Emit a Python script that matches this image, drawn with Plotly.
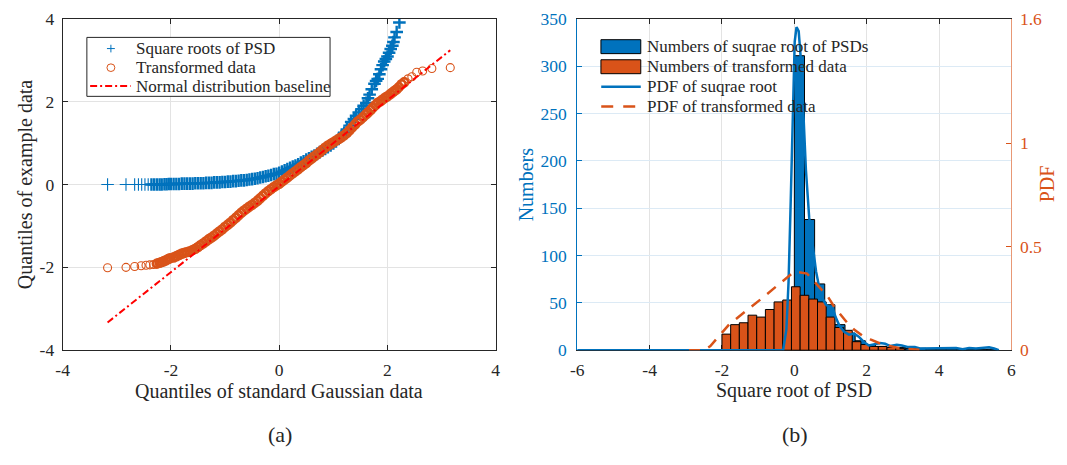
import plotly.graph_objects as go

# ------------------------------------------------------------------ data
# (a) QQ plot: square roots of PSD (blue "+")
sqrt_q_x = [-3.17, -2.83, -2.67, -2.60, -2.54, -2.48, -2.42, -2.36, -2.31, -2.26, -2.21, -2.17, -2.12, -2.08, -2.04,
            -2.00, -1.95, -1.90, -1.85, -1.80, -1.75, -1.70, -1.65, -1.60, -1.55, -1.50, -1.45, -1.40, -1.35, -1.30,
            -1.25, -1.20, -1.15, -1.10, -1.05, -1.00, -0.95, -0.90, -0.85, -0.80, -0.75, -0.70, -0.65, -0.60, -0.55,
            -0.50, -0.45, -0.40, -0.35, -0.30, -0.25, -0.20, -0.15, -0.10, -0.05, 0.00, 0.05, 0.10, 0.15, 0.20,
            0.25, 0.30, 0.35, 0.40, 0.45, 0.50, 0.55, 0.60, 0.65, 0.70, 0.75, 0.80, 0.85, 0.90, 0.95,
            1.00, 1.05, 1.10, 1.15, 1.20, 1.25, 1.30, 1.33, 1.38, 1.42, 1.47, 1.52, 1.56, 1.61, 1.64,
            1.67, 1.71, 1.76, 1.79, 1.82, 1.85, 1.88, 1.91, 1.94, 1.97, 2.00, 2.03, 2.06, 2.09, 2.11,
            2.13, 2.17, 2.22]
sqrt_q_y = [0.00, 0.00, 0.00, 0.00, 0.00, 0.00, 0.00, 0.00, 0.00, 0.00, 0.00, 0.00, 0.005, 0.005, 0.01,
            0.01, 0.01, 0.01, 0.01, 0.02, 0.02, 0.02, 0.02, 0.02, 0.03, 0.03, 0.03, 0.03, 0.04, 0.04,
            0.04, 0.05, 0.05, 0.05, 0.06, 0.06, 0.07, 0.07, 0.08, 0.08, 0.09, 0.10, 0.10, 0.11, 0.12,
            0.13, 0.14, 0.15, 0.17, 0.18, 0.20, 0.21, 0.23, 0.25, 0.26, 0.28, 0.31, 0.34, 0.37, 0.40,
            0.43, 0.46, 0.49, 0.53, 0.56, 0.60, 0.63, 0.67, 0.70, 0.74, 0.78, 0.82, 0.86, 0.90, 0.94,
            0.99, 1.04, 1.10, 1.17, 1.25, 1.33, 1.42, 1.51, 1.58, 1.66, 1.74, 1.82, 1.90, 1.97, 2.08,
            2.17, 2.30, 2.43, 2.50, 2.55, 2.66, 2.78, 2.88, 2.97, 3.03, 3.09, 3.18, 3.27, 3.35, 3.44,
            3.55, 3.68, 3.91]

# (a) QQ plot: transformed data (orange circles)
trans_q_x = [-3.17, -2.83, -2.67, -2.55, -2.46, -2.39, -2.32, -2.26, -2.21, -2.17, -2.13, -2.09, -2.05, -2.02,
             -1.95, -1.90, -1.85, -1.80, -1.75, -1.70, -1.65, -1.60, -1.55, -1.50, -1.45, -1.40, -1.35, -1.30,
             -1.25, -1.20, -1.15, -1.10, -1.05, -1.00, -0.95, -0.90, -0.85, -0.80, -0.75, -0.70, -0.65, -0.60,
             -0.55, -0.50, -0.45, -0.40, -0.35, -0.30, -0.25, -0.20, -0.15, -0.10, -0.05, 0.00, 0.05, 0.10,
             0.15, 0.20, 0.25, 0.30, 0.35, 0.40, 0.45, 0.50, 0.55, 0.60, 0.65, 0.70, 0.75, 0.80,
             0.85, 0.90, 0.95, 1.00, 1.05, 1.10, 1.15, 1.20, 1.25, 1.30, 1.35, 1.40, 1.45, 1.50,
             1.55, 1.60, 1.64, 1.69, 1.73, 1.78, 1.82, 1.87, 1.91, 1.96, 2.00, 2.05, 2.09, 2.13,
             2.17, 2.21, 2.26, 2.31, 2.38, 2.45, 2.54, 2.65, 2.82, 3.16]
trans_q_y = [-2.01, -2.00, -1.98, -1.96, -1.95, -1.94, -1.93, -1.91, -1.89, -1.87, -1.85, -1.83, -1.80, -1.78,
             -1.76, -1.73, -1.70, -1.67, -1.65, -1.63, -1.61, -1.58, -1.55, -1.51, -1.46, -1.42, -1.37, -1.32,
             -1.28, -1.23, -1.18, -1.13, -1.08, -1.02, -0.97, -0.92, -0.86, -0.80, -0.74, -0.68, -0.63, -0.58,
             -0.53, -0.49, -0.44, -0.39, -0.33, -0.27, -0.21, -0.16, -0.11, -0.06, -0.02, 0.02, 0.07, 0.12,
             0.17, 0.22, 0.27, 0.32, 0.37, 0.42, 0.47, 0.52, 0.58, 0.63, 0.68, 0.73, 0.78, 0.84,
             0.89, 0.94, 0.98, 1.02, 1.06, 1.10, 1.14, 1.19, 1.24, 1.31, 1.38, 1.45, 1.52, 1.57,
             1.63, 1.69, 1.74, 1.80, 1.86, 1.92, 1.97, 2.01, 2.05, 2.10, 2.13, 2.18, 2.22, 2.26,
             2.30, 2.35, 2.42, 2.47, 2.55, 2.60, 2.71, 2.74, 2.80, 2.82]

# (a) normal distribution baseline
baseline_x = [-3.17, 3.16]
baseline_y = [-3.33, 3.24]

# (b) histogram of square roots of PSD
sqrt_edges = [0.00, 0.28, 0.56, 0.84, 1.12, 1.40, 1.68, 1.96, 2.24, 2.52, 2.80,
              3.08, 3.36, 3.64, 3.92, 4.20, 4.48, 4.76, 5.04, 5.32, 5.60]
sqrt_counts = [311, 138, 70, 48, 27, 18, 10, 6, 4, 3, 3, 2, 2, 1, 1, 1, 1, 1, 1, 1]

# (b) histogram of transformed data
trans_edges = [-2.00, -1.76, -1.52, -1.28, -1.04, -0.80, -0.56, -0.32, -0.08, 0.16, 0.40,
               0.64, 0.88, 1.12, 1.36, 1.60, 1.84, 2.08, 2.32, 2.56, 2.80, 3.04]
trans_counts = [17, 27, 29, 37, 35, 43, 51, 53, 67, 58, 54, 51, 35, 24, 21, 9, 6, 4, 4, 3, 2]

# (b) PDF of square roots
sqrt_pdf_x = [-6.00, -0.31, -0.22, -0.16, -0.10, -0.04, 0.01, 0.06, 0.12, 0.19, 0.26, 0.32, 0.41, 0.51,
              0.60, 0.69, 0.78, 0.87, 0.96, 1.05, 1.14, 1.24, 1.37, 1.51, 1.65, 1.78, 1.92, 2.06,
              2.19, 2.37, 2.51, 2.65, 2.83, 2.97, 3.15, 3.33, 3.47, 3.65, 3.92, 4.20, 4.47, 4.65,
              4.83, 5.02, 5.20, 5.38, 5.52, 5.65]
sqrt_pdf_y = [0.00, 0.00, 0.10, 0.33, 0.72, 1.18, 1.49, 1.56, 1.54, 1.38, 1.10, 0.87, 0.64, 0.49,
              0.38, 0.30, 0.25, 0.22, 0.21, 0.21, 0.16, 0.12, 0.09, 0.075, 0.08, 0.065, 0.04, 0.023,
              0.028, 0.035, 0.031, 0.020, 0.026, 0.023, 0.015, 0.015, 0.008, 0.008, 0.008, 0.008, 0.011, 0.005,
              0.011, 0.008, 0.011, 0.014, 0.008, 0.00]

# (b) PDF of transformed data
trans_pdf_x = [-2.91, -2.50, -2.32, -1.80, -0.90, 0.00, 0.35, 0.73, 0.92, 1.10, 1.24, 1.45, 1.65,
               1.90, 2.10, 2.40, 2.90, 3.60]
trans_pdf_y = [0.00, 0.00, 0.02, 0.125, 0.25, 0.38, 0.37, 0.30, 0.26, 0.21, 0.18, 0.135, 0.10,
               0.068, 0.052, 0.03, 0.01, 0.00]

x_ticks_a = [-4, -2, 0, 2, 4]
x_ticks_b = [-6, -4, -2, 0, 2, 4, 6]
y_ticks_a = [-4, -2, 0, 2, 4]
y_ticks_num = [0, 50, 100, 150, 200, 250, 300, 350]
y_ticks_pdf = [0, 0.5, 1, 1.6]

# ------------------------------------------------------------------ style
FONT = "Liberation Serif"
AX = "#262626"
BLUE = "#0072BD"
ORANGE = "#D95319"
PAGE_W, PAGE_H = 1067, 465
OFF = 8                       # default body margin of the html page
W, H = PAGE_W - 2 * OFF, PAGE_H - 2 * OFF
TICK_SIZE = 17.5
TITLE_SIZE = 20
LEG_SIZE = 17


def px(x):
    """page pixel x -> paper fraction"""
    return (x - OFF) / W


def py(y):
    """page pixel y -> paper fraction"""
    return 1 - (y - OFF) / H


def lab(v):
    return "%g" % v  # ASCII hyphen-minus, as in the original


def density_widths(xs, thin, thick, gap=0.06):
    """Thicker marker strokes where points crowd together (the solid band of the QQ plot)."""
    out = []
    for i in range(len(xs)):
        d = min(abs(xs[i] - xs[j]) for j in (i - 1, i + 1) if 0 <= j < len(xs))
        out.append(thick if d < gap else thin)
    return out


L_X = [px(56.2), px(494.3)]
R_X = [px(576.7), px(1016.0)]
Y_DOM = [py(355.7), py(8.8)]

fig = go.Figure()

# ---- (a)
fig.add_trace(go.Scatter(x=sqrt_q_x, y=sqrt_q_y, mode="markers", xaxis="x", yaxis="y",
                         marker=dict(symbol="cross-thin-open", size=9, color=BLUE,
                                     line=dict(width=density_widths(sqrt_q_x, 1.1, 2.4), color=BLUE)),
                         showlegend=False))
fig.add_trace(go.Scatter(x=trans_q_x, y=trans_q_y, mode="markers", xaxis="x", yaxis="y",
                         marker=dict(symbol="circle-open", size=8, color=ORANGE,
                                     line=dict(width=density_widths(trans_q_x, 1.1, 2.6), color=ORANGE)),
                         showlegend=False))
fig.add_trace(go.Scatter(x=baseline_x, y=baseline_y, mode="lines", xaxis="x", yaxis="y",
                         line=dict(color="red", width=2, dash="7px,3px,2px,3px"), showlegend=False))

# ---- (b)
s_centers = [(a + b) / 2 for a, b in zip(sqrt_edges[:-1], sqrt_edges[1:])]
s_widths = [b - a for a, b in zip(sqrt_edges[:-1], sqrt_edges[1:])]
t_centers = [(a + b) / 2 for a, b in zip(trans_edges[:-1], trans_edges[1:])]
t_widths = [b - a for a, b in zip(trans_edges[:-1], trans_edges[1:])]

fig.add_trace(go.Bar(x=s_centers, y=sqrt_counts, width=s_widths, xaxis="x2", yaxis="y2",
                     marker=dict(color=BLUE, line=dict(color="black", width=1)), showlegend=False))
fig.add_trace(go.Bar(x=t_centers, y=trans_counts, width=t_widths, xaxis="x2", yaxis="y2",
                     marker=dict(color=ORANGE, line=dict(color="black", width=1)), showlegend=False))
fig.add_trace(go.Scatter(x=sqrt_pdf_x, y=sqrt_pdf_y, mode="lines", xaxis="x2", yaxis="y3",
                         line=dict(color=BLUE, width=2.5), showlegend=False))
fig.add_trace(go.Scatter(x=trans_pdf_x, y=trans_pdf_y, mode="lines", xaxis="x2", yaxis="y3",
                         line=dict(color=ORANGE, width=2.5, dash="11px,9px"), showlegend=False))

tickfont = dict(family=FONT, size=TICK_SIZE, color=AX)
common = dict(ticks="inside", ticklen=5, tickwidth=1, showline=True, linewidth=1,
              zeroline=False, showgrid=True, gridwidth=1, ticklabeloverflow="allow")

fig.update_layout(
    width=W, height=H, autosize=False,
    margin=dict(l=0, r=0, t=0, b=0),
    paper_bgcolor="white", plot_bgcolor="white",
    barmode="overlay", showlegend=False,
    font=dict(family=FONT, color=AX),
    xaxis=dict(domain=L_X, anchor="y", range=[-4, 4], tickvals=x_ticks_a,
               ticktext=[lab(v) for v in x_ticks_a], linecolor=AX, tickcolor=AX,
               gridcolor="#E3E3E3", mirror="ticks", tickfont=tickfont, ticklabelstandoff=4, **common),
    yaxis=dict(domain=Y_DOM, anchor="x", range=[-4, 4], tickvals=y_ticks_a,
               ticktext=[lab(v) for v in y_ticks_a], linecolor=AX, tickcolor=AX,
               gridcolor="#E3E3E3", mirror="ticks", tickfont=tickfont, ticklabelstandoff=4, **common),
    xaxis2=dict(domain=R_X, anchor="y2", range=[-6, 6], tickvals=x_ticks_b,
                ticktext=[lab(v) for v in x_ticks_b], linecolor=AX, tickcolor=AX,
                gridcolor="#E3E3E3", mirror="ticks", tickfont=tickfont, ticklabelstandoff=4,
                layer="below traces", **common),
    yaxis2=dict(domain=Y_DOM, anchor="x2", range=[0, 350], tickvals=y_ticks_num,
                ticktext=[lab(v) for v in y_ticks_num], linecolor=BLUE, tickcolor=BLUE,
                gridcolor="#DCEAF5", tickfont=dict(family=FONT, size=TICK_SIZE, color=BLUE),
                ticklabelstandoff=6, **common),
    yaxis3=dict(overlaying="y2", anchor="x2", side="right", range=[0, 1.6], tickvals=y_ticks_pdf,
                ticktext=[lab(v) for v in y_ticks_pdf], ticks="inside", ticklen=5, tickwidth=1,
                showline=True, linewidth=1, linecolor="rgba(217,83,25,0.6)", tickcolor=ORANGE,
                zeroline=False, showgrid=False, ticklabeloverflow="allow",
                tickfont=dict(family=FONT, size=TICK_SIZE, color=ORANGE), ticklabelstandoff=4),
)

shapes = []
ann = []


def text(x, y, s, size, color=AX, xanchor="left", angle=0):
    ann.append(dict(x=px(x), y=py(y), xref="paper", yref="paper", text=s, showarrow=False,
                    xanchor=xanchor, yanchor="middle", textangle=angle,
                    font=dict(family=FONT, size=size, color=color)))


# axis titles and panel labels
text(275.3, 398, "Quantiles of standard Gaussian data", TITLE_SIZE, xanchor="center")
text(18, 182, "Quantiles of example data", TITLE_SIZE, xanchor="center", angle=-90)
text(796.3, 398, "Square root of PSD", TITLE_SIZE, xanchor="center")
text(525, 182, "Numbers", TITLE_SIZE, color=BLUE, xanchor="center", angle=-90)
text(1052, 182, "PDF", TITLE_SIZE, color=ORANGE, xanchor="center", angle=-90)
text(276, 444, "(a)", 22, xanchor="center")
text(797, 444, "(b)", 22, xanchor="center")

# legend (a)
shapes.append(dict(type="rect", xref="paper", yref="paper", x0=px(80.7), x1=px(326.7), y0=py(90), y1=py(28.3),
                   line=dict(color=AX, width=1), fillcolor="white", layer="above"))
shapes.append(dict(type="line", xref="paper", yref="paper", x0=px(101), x1=px(109), y0=py(40), y1=py(40),
                   line=dict(color=BLUE, width=1), layer="above"))
shapes.append(dict(type="line", xref="paper", yref="paper", x0=px(105), x1=px(105), y0=py(36), y1=py(44),
                   line=dict(color=BLUE, width=1), layer="above"))
shapes.append(dict(type="circle", xref="paper", yref="paper", x0=px(101), x1=px(109), y0=py(64), y1=py(56),
                   line=dict(color=ORANGE, width=1), layer="above"))
shapes.append(dict(type="line", xref="paper", yref="paper", x0=px(84), x1=px(125), y0=py(79.3), y1=py(79.3),
                   line=dict(color="red", width=2, dash="7px,3px,2px,3px"), layer="above"))
text(128.5, 40, "Square roots of PSD", LEG_SIZE)
text(128.5, 60, "Transformed data", LEG_SIZE)
text(128.5, 79.3, "Normal distribution baseline", LEG_SIZE)

# legend (b)
shapes.append(dict(type="rect", xref="paper", yref="paper", x0=px(600.7), x1=px(641), y0=py(45.3), y1=py(30.7),
                   line=dict(color="black", width=1), fillcolor=BLUE, layer="above"))
shapes.append(dict(type="rect", xref="paper", yref="paper", x0=px(600.7), x1=px(641), y0=py(66.3), y1=py(51.7),
                   line=dict(color="black", width=1), fillcolor=ORANGE, layer="above"))
shapes.append(dict(type="line", xref="paper", yref="paper", x0=px(601), x1=px(641), y0=py(80), y1=py(80),
                   line=dict(color=BLUE, width=2.5), layer="above"))
shapes.append(dict(type="line", xref="paper", yref="paper", x0=px(601), x1=px(641), y0=py(100.7), y1=py(100.7),
                   line=dict(color=ORANGE, width=2.5, dash="12px,10px"), layer="above"))
text(645, 38.3, "Numbers of suqrae root of PSDs", LEG_SIZE)
text(645, 59, "Numbers of transformed data", LEG_SIZE)
text(645, 80, "PDF of suqrae root", LEG_SIZE)
text(645, 100.7, "PDF of transformed data", LEG_SIZE)

fig.update_layout(shapes=shapes, annotations=ann)
fig.write_html("out.html", config={"displayModeBar": False})
